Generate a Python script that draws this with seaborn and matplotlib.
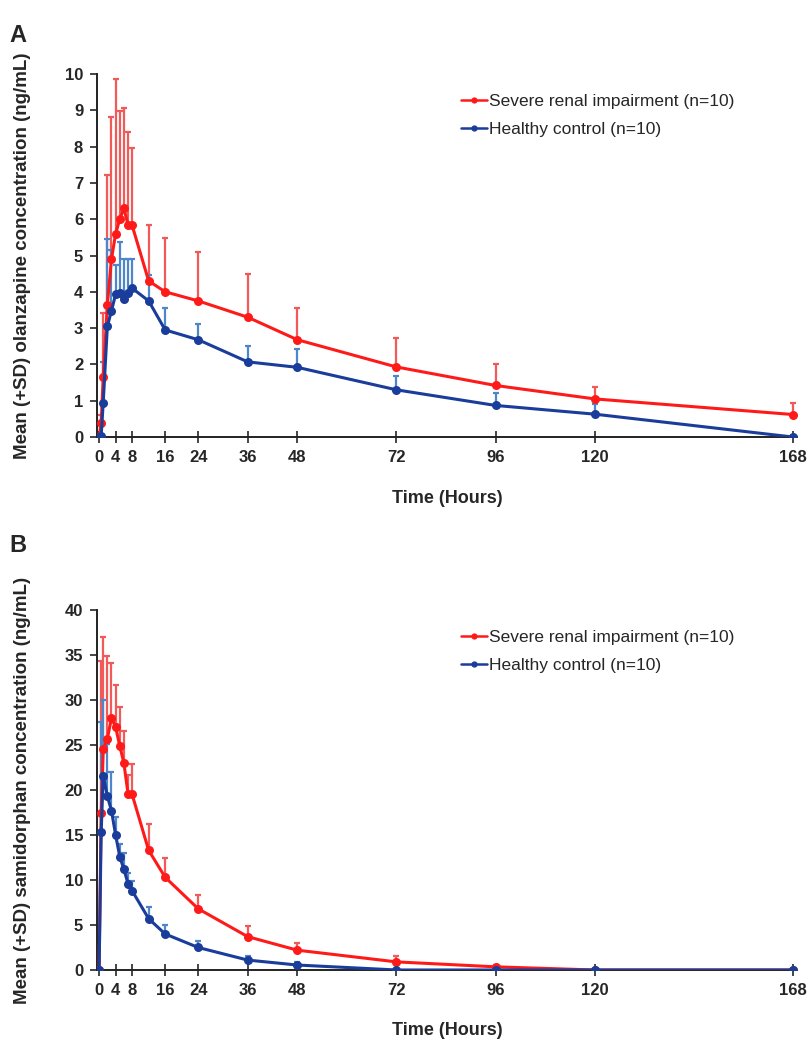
import matplotlib
matplotlib.use("Agg")
import matplotlib.pyplot as plt
import seaborn as sns
import numpy as np
import pandas as pd

# sampling times (hours)
times = [0, 0.5, 1, 2, 3, 4, 5, 6, 7, 8, 12, 16, 24, 36, 48, 72, 96, 120, 168]
x_ticks = [0, 4, 8, 16, 24, 36, 48, 72, 96, 120, 168]

groups = ["Severe renal impairment (n=10)", "Healthy control (n=10)"]

# Panel A: olanzapine (ng/mL)
olz_renal_mean = [0, 0.38, 1.65, 3.65, 4.9, 5.6, 6.0, 6.3, 5.85, 5.83, 4.3, 4.0, 3.75, 3.3, 2.68, 1.93, 1.42, 1.05, 0.62]
olz_renal_sd = [0, 0.22, 1.77, 3.56, 3.92, 4.27, 2.99, 2.76, 2.55, 2.13, 1.53, 1.49, 1.34, 1.2, 0.87, 0.79, 0.58, 0.32, 0.31]
olz_healthy_mean = [0, 0.02, 0.95, 3.05, 3.48, 3.93, 3.97, 3.8, 3.97, 4.1, 3.75, 2.95, 2.68, 2.07, 1.92, 1.3, 0.87, 0.63, 0.0]
olz_healthy_sd = [0, 0.03, 1.13, 2.4, 1.67, 0.82, 1.4, 1.1, 0.93, 0.8, 0.7, 0.6, 0.44, 0.45, 0.5, 0.37, 0.33, 0.29, 0.05]

# Panel B: samidorphan (ng/mL)
sam_renal_mean = [0, 17.4, 24.5, 25.7, 28.0, 27.0, 24.9, 23.0, 19.6, 19.5, 13.3, 10.3, 6.8, 3.7, 2.2, 0.9, 0.35, 0.0, 0.0]
sam_renal_sd = [0, 16.9, 12.5, 9.2, 6.1, 4.7, 4.3, 3.5, 2.1, 3.4, 2.9, 2.1, 1.5, 1.2, 0.8, 0.6, 0.25, 0, 0]
sam_healthy_mean = [0, 15.3, 21.6, 19.3, 17.7, 15.0, 12.6, 11.2, 9.6, 8.8, 5.7, 4.0, 2.5, 1.1, 0.55, 0, 0, 0, 0]
sam_healthy_sd = [0, 12.3, 8.4, 5.8, 4.3, 2.0, 1.4, 1.8, 1.2, 1.1, 1.3, 1.0, 0.7, 0.5, 0.35, 0, 0, 0, 0]

line_colors = {groups[0]: "#ff1a1a", groups[1]: "#1a3c9a"}
err_colors = {groups[0]: "#f25a5a", groups[1]: "#4f86c9"}

sns.set_style("ticks")
plt.rcParams["font.family"] = ["Liberation Sans", "DejaVu Sans"]

fig = plt.figure(figsize=(8.12, 10.44), dpi=100)
ax_a = fig.add_axes([0.1195, 0.5814, 0.862, 0.3477])
ax_b = fig.add_axes([0.1195, 0.0709, 0.862, 0.3448])


def draw_panel(ax, renal_mean, renal_sd, healthy_mean, healthy_sd, ymax, ystep, ylabel):
    df = pd.DataFrame({
        "time": times * 2,
        "conc": renal_mean + healthy_mean,
        "sd": renal_sd + healthy_sd,
        "group": [groups[0]] * len(times) + [groups[1]] * len(times),
    })

    # upper SD bars only, behind the lines
    for g in groups:
        sub = df[df["group"] == g]
        ax.errorbar(sub["time"], sub["conc"],
                    yerr=[np.zeros(len(sub)), sub["sd"].values],
                    fmt="none", ecolor=err_colors[g], elinewidth=1.6,
                    capsize=2.5, capthick=1.6, zorder=1)

    sns.lineplot(data=df, x="time", y="conc", hue="group", hue_order=groups,
                 palette=line_colors, marker="o", markersize=6.5,
                 markeredgewidth=0, linewidth=2.2, ax=ax, zorder=3)

    yt = np.arange(0, ymax + 0.01, ystep)
    ax.set_xlim(-0.5, 169)
    ax.set_ylim(0, ymax)
    ax.set_xticks(x_ticks)
    ax.set_xticklabels([str(t) for t in x_ticks], fontweight="bold")
    ax.set_yticks(yt)
    ax.set_yticklabels([f"{v:g}" for v in yt], fontweight="bold")
    ax.tick_params(axis="x", direction="inout", length=8, width=1.2, labelsize=12, pad=5.5)
    ax.tick_params(axis="y", direction="out", length=5, width=1.2, labelsize=12, pad=5)
    for s in ["left", "bottom"]:
        ax.spines[s].set_linewidth(1.4)
        ax.spines[s].set_color("#222222")
    sns.despine(ax=ax)

    ax.set_xlabel("Time (Hours)", fontsize=13, fontweight="bold")
    ax.xaxis.set_label_coords(0.5, -0.145)
    ax.set_ylabel(ylabel, fontsize=13.5, fontweight="bold")
    ax.yaxis.set_label_coords(-0.095, 0.5)

    leg = ax.legend(loc="upper left", bbox_to_anchor=(0.52, 0.945), frameon=False,
                    fontsize=12.5, handlelength=1.5, handletextpad=0.12,
                    labelspacing=0.72, borderpad=0, borderaxespad=0)
    for h in leg.legend_handles:
        h.set_markersize(4.5)
        h.set_linewidth(1.8)


draw_panel(ax_a, olz_renal_mean, olz_renal_sd, olz_healthy_mean, olz_healthy_sd,
           10, 1, "Mean (+SD) olanzapine concentration (ng/mL)")
draw_panel(ax_b, sam_renal_mean, sam_renal_sd, sam_healthy_mean, sam_healthy_sd,
           40, 5, "Mean (+SD) samidorphan concentration (ng/mL)")

fig.text(0.012, 1 - 36 / 1044, "A", fontsize=17, fontweight="bold", va="center")
fig.text(0.012, 1 - 545 / 1044, "B", fontsize=17, fontweight="bold", va="center")

fig.savefig("out.png", dpi=100)
